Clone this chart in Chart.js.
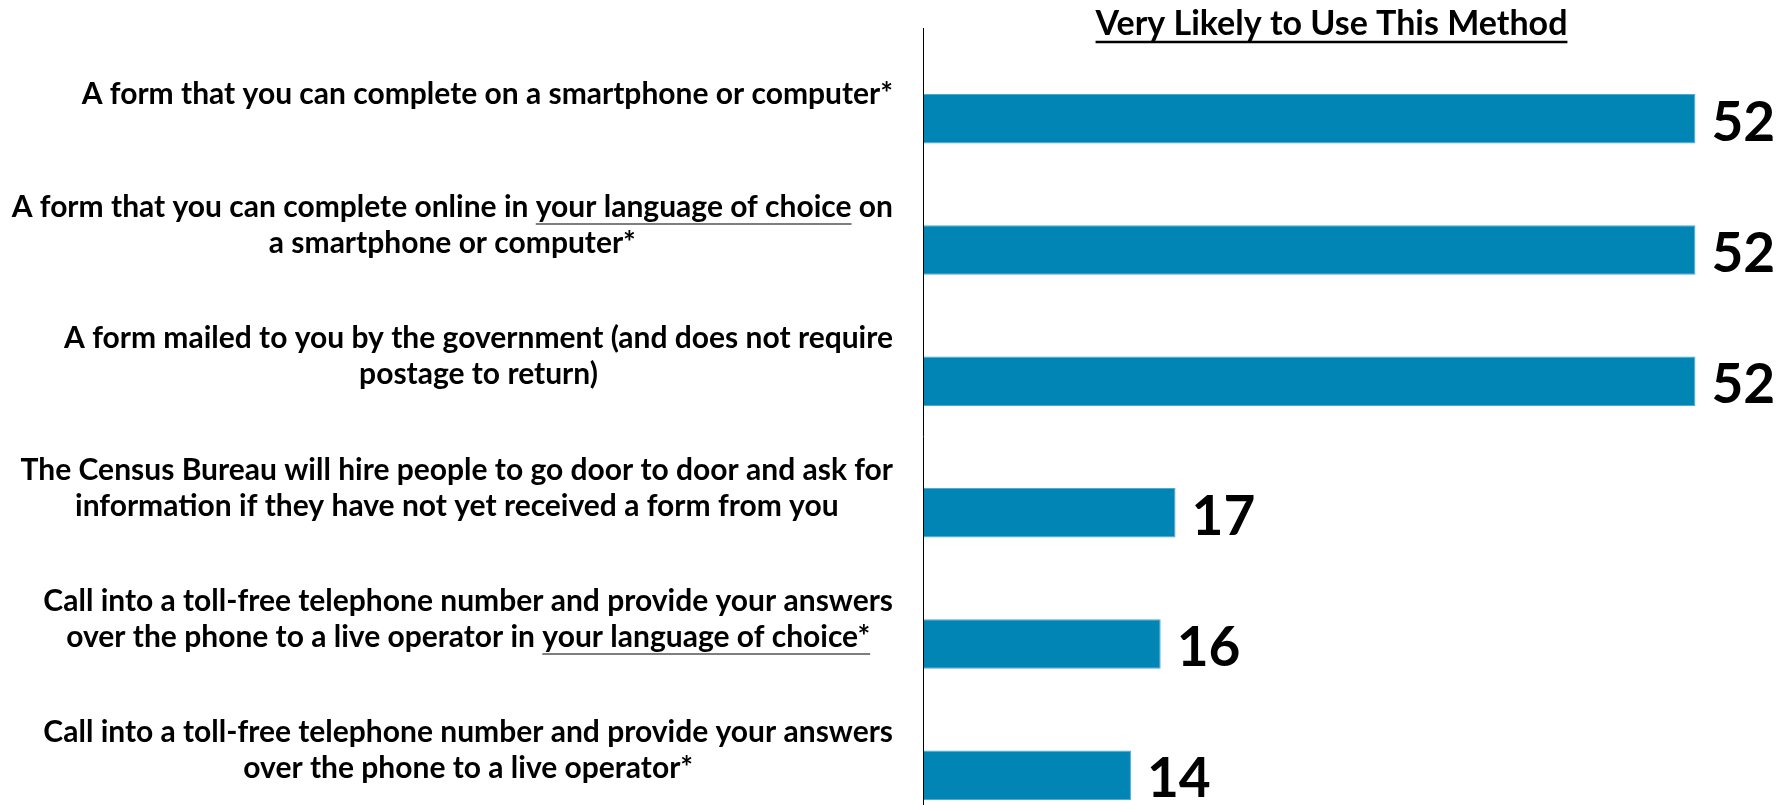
<!DOCTYPE html>
<html lang="en">
<head>
    <meta charset="UTF-8">
    <meta name="viewport" content="width=device-width, initial-scale=1.0">
    <script src="https://cdn.jsdelivr.net/npm/chart.js@4.4.0/dist/chart.umd.min.js"></script>
    <title>Very Likely to Use This Method</title>
    <style>
        html, body { margin: 0; padding: 0; background: #fff; overflow: hidden; }
        #wrap { position: relative; width: 1792px; height: 845px; }
    </style>
</head>
<body>
    <div id="wrap"><canvas id="myChart"></canvas></div>
    <script>
    // each category label is a list of its lines
    var methods = [
        ['A form that you can complete on a smartphone or computer*'],
        ['A form that you can complete online in your language of choice on', 'a smartphone or computer*'],
        ['A form mailed to you by the government (and does not require', 'postage to return)'],
        ['The Census Bureau will hire people to go door to door and ask for', 'information if they have not yet received a form from you'],
        ['Call into a toll-free telephone number and provide your answers', 'over the phone to a live operator in your language of choice*'],
        ['Call into a toll-free telephone number and provide your answers', 'over the phone to a live operator*']
    ];
    var underlined = [null, 'your language of choice', null, null, 'your language of choice*', null];
    var veryLikely = [52, 52, 52, 17, 16, 14];
    var chartTitle = 'Very Likely to Use This Method';
    var xMax = 55;

    var labelFont = 'bold 30px Lato';
    var labelLineHeight = 36;
    var valueFont = 'bold 55px Lato';
    var titleFont = 'bold 34px Lato';

    // axis line, title, category labels and value labels
    var drawExtras = {
        id: 'drawExtras',
        afterDatasetsDraw: function(chart) {
            var ctx = chart.ctx;
            var area = chart.chartArea;
            var xs = chart.scales.x, ys = chart.scales.y;
            var x0 = xs.getPixelForValue(0);
            ctx.save();

            ctx.strokeStyle = '#000';
            ctx.lineWidth = 1;
            ctx.beginPath();
            ctx.moveTo(Math.round(x0) + 0.5, area.top - 25);
            ctx.lineTo(Math.round(x0) + 0.5, chart.height);
            ctx.stroke();

            // title, underlined
            var cx = (area.left + area.right) / 2;
            ctx.font = titleFont;
            ctx.fillStyle = '#000';
            ctx.textAlign = 'center';
            ctx.textBaseline = 'alphabetic';
            ctx.fillText(chartTitle, cx, 35);
            var tw = ctx.measureText(chartTitle).width;
            ctx.lineWidth = 2.5;
            ctx.beginPath();
            ctx.moveTo(cx - tw / 2, 42);
            ctx.lineTo(cx + tw / 2, 42);
            ctx.stroke();

            // category labels: block right-aligned to the axis, lines centred in the block
            ctx.font = labelFont;
            ctx.textAlign = 'left';
            var capH = ctx.measureText('H').actualBoundingBoxAscent;
            var rightX = x0 - 30;
            methods.forEach(function(lines, i) {
                var widths = lines.map(function(l) { return ctx.measureText(l).width; });
                var blockW = Math.max.apply(null, widths);
                var midX = rightX - blockW / 2;
                var cy = ys.getPixelForValue(i) - 26;
                lines.forEach(function(line, j) {
                    var base = cy + capH / 2 + (j - (lines.length - 1) / 2) * labelLineHeight;
                    var lx = midX - widths[j] / 2;
                    ctx.fillStyle = '#000';
                    ctx.fillText(line, lx, base);
                    var u = underlined[i];
                    if (u && line.indexOf(u) >= 0) {
                        var ux = lx + ctx.measureText(line.slice(0, line.indexOf(u))).width;
                        var uw = ctx.measureText(u).width;
                        ctx.strokeStyle = '#7f7f7f';
                        ctx.lineWidth = 2;
                        ctx.beginPath();
                        ctx.moveTo(ux, base + 7);
                        ctx.lineTo(ux + uw, base + 7);
                        ctx.stroke();
                    }
                });
            });

            // value labels at the bar ends
            ctx.font = valueFont;
            ctx.fillStyle = '#000';
            var meta = chart.getDatasetMeta(0);
            meta.data.forEach(function(bar, i) {
                var txt = String(veryLikely[i]);
                var asc = ctx.measureText(txt).actualBoundingBoxAscent;
                ctx.fillText(txt, bar.x + 16, bar.y + asc / 2 + 2);
            });
            ctx.restore();
        }
    };

    var ctx = document.getElementById('myChart');
    new Chart(ctx, {
        type: 'bar',
        data: {
            labels: methods,
            datasets: [{
                label: chartTitle,
                data: veryLikely,
                backgroundColor: '#0085B5',
                borderColor: '#4DAAD2',
                borderWidth: 1,
                borderSkipped: 'start',
                barPercentage: 0.377,
                categoryPercentage: 1
            }]
        },
        options: {
            indexAxis: 'y',
            responsive: true,
            maintainAspectRatio: false,
            animation: false,
            layout: { padding: { left: 923, right: 52, top: 53, bottom: 4 } },
            plugins: {
                legend: { display: false },
                tooltip: { enabled: false },
                title: { display: false }
            },
            scales: {
                x: { display: false, min: 0, max: xMax },
                y: { display: false }
            }
        },
        plugins: [drawExtras]
    });
    </script>
</body>
</html>
